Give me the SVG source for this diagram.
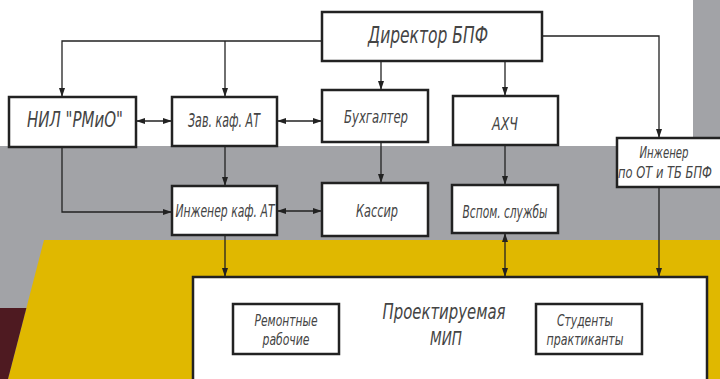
<svg xmlns="http://www.w3.org/2000/svg" width="720" height="379" viewBox="0 0 720 379">
<style>
.box{fill:#fff;stroke:#222;stroke-width:2.5}
.c{fill:none;stroke:#222;stroke-width:1.3}
.t{font-family:"Liberation Sans Narrow","DejaVu Sans Condensed","Liberation Sans",sans-serif;font-style:italic;font-weight:normal;fill:#444;text-anchor:middle}
</style>
<defs>
<marker id="ah" viewBox="0 0 9 6" refX="9" refY="3" markerWidth="9" markerHeight="6" markerUnits="userSpaceOnUse" orient="auto-start-reverse">
<path d="M0,0 L9,3 L0,6 z" fill="#222"/>
</marker>
</defs>
<g id="background">
<rect x="0" y="0" width="720" height="379" fill="#fff"/>
<rect x="0" y="146" width="720" height="233" fill="#a2a3a7"/>
<rect x="693" y="0" width="27" height="146" fill="#a2a3a7"/>
<polygon points="44,240 720,240 720,379 8,379" fill="#e0b800"/>
<polygon points="0,308 26.4,308 8,379 0,379" fill="#4e1a21"/>
</g>
<g id="connectors">
<polyline class="c" points="322,41 62,41 62,97" marker-end="url(#ah)"/>
<line class="c" x1="225" y1="41" x2="225" y2="97" marker-end="url(#ah)"/>
<polyline class="c" points="542,36 659,36 659,138" marker-end="url(#ah)"/>
<line class="c" x1="381" y1="61" x2="381" y2="90" marker-end="url(#ah)"/>
<line class="c" x1="505" y1="61" x2="505" y2="96" marker-end="url(#ah)"/>
<line class="c" x1="225" y1="146" x2="225" y2="186" marker-end="url(#ah)"/>
<line class="c" x1="381" y1="142" x2="381" y2="183" marker-end="url(#ah)"/>
<line class="c" x1="505" y1="145" x2="505" y2="185" marker-end="url(#ah)"/>
<polyline class="c" points="62,147 62,212 172,212" marker-end="url(#ah)"/>
<line class="c" x1="136" y1="121" x2="172" y2="121" marker-start="url(#ah)" marker-end="url(#ah)"/>
<line class="c" x1="277" y1="121" x2="322" y2="121" marker-start="url(#ah)" marker-end="url(#ah)"/>
<line class="c" x1="277" y1="211" x2="322" y2="211" marker-start="url(#ah)" marker-end="url(#ah)"/>
<line class="c" x1="225" y1="235" x2="225" y2="277" marker-end="url(#ah)"/>
<line class="c" x1="505" y1="233" x2="505" y2="277" marker-start="url(#ah)" marker-end="url(#ah)"/>
<line class="c" x1="659" y1="187" x2="659" y2="277" marker-end="url(#ah)"/>
</g>
<g id="director">
<rect class="box" x="322" y="12" width="220" height="49"/>
<text class="t" x="428" y="43" font-size="23" textLength="120" lengthAdjust="spacingAndGlyphs">Директор БПФ</text>
</g>
<g id="nil">
<rect class="box" x="9" y="97" width="127" height="50"/>
<text class="t" x="75" y="127" font-size="22" textLength="96" lengthAdjust="spacingAndGlyphs">НИЛ "РМиО"</text>
</g>
<g id="zav">
<rect class="box" x="172" y="97" width="105" height="49"/>
<text class="t" x="224" y="127" font-size="20" textLength="72" lengthAdjust="spacingAndGlyphs">Зав. каф. АТ</text>
</g>
<g id="buh">
<rect class="box" x="322" y="90" width="106" height="52"/>
<text class="t" x="376" y="123" font-size="18" textLength="64" lengthAdjust="spacingAndGlyphs">Бухгалтер</text>
</g>
<g id="ahch">
<rect class="box" x="453" y="96" width="105" height="49"/>
<text class="t" x="505" y="130" font-size="18" textLength="26" lengthAdjust="spacingAndGlyphs">АХЧ</text>
</g>
<g id="ing-ot">
<rect class="box" x="617" y="138" width="106" height="49"/>
<text class="t" x="664" y="158" font-size="15" textLength="49" lengthAdjust="spacingAndGlyphs">Инженер</text>
<text class="t" x="665" y="178" font-size="15" textLength="94" lengthAdjust="spacingAndGlyphs">по ОТ и ТБ БПФ</text>
</g>
<g id="ing-kaf">
<rect class="box" x="172" y="186" width="105" height="49"/>
<text class="t" x="225" y="217" font-size="18" textLength="99" lengthAdjust="spacingAndGlyphs">Инженер каф. АТ</text>
</g>
<g id="kassir">
<rect class="box" x="322" y="183" width="106" height="53"/>
<text class="t" x="377" y="217" font-size="18" textLength="42" lengthAdjust="spacingAndGlyphs">Кассир</text>
</g>
<g id="vspom">
<rect class="box" x="452" y="185" width="106" height="48"/>
<text class="t" x="505" y="218" font-size="17" textLength="85" lengthAdjust="spacingAndGlyphs">Вспом. службы</text>
</g>
<g id="mip">
<rect class="box" x="193" y="277" width="514" height="110" stroke-width="3"/>
<text class="t" x="444" y="319" font-size="21" textLength="123" lengthAdjust="spacingAndGlyphs">Проектируемая</text>
<text class="t" x="446" y="345" font-size="20" textLength="32" lengthAdjust="spacingAndGlyphs">МИП</text>
</g>
<g id="remont">
<rect class="box" x="233" y="304" width="106" height="50"/>
<text class="t" x="286" y="326" font-size="16" textLength="63" lengthAdjust="spacingAndGlyphs">Ремонтные</text>
<text class="t" x="286" y="345" font-size="16" textLength="47" lengthAdjust="spacingAndGlyphs">рабочие</text>
</g>
<g id="students">
<rect class="box" x="536" y="304" width="106" height="50"/>
<text class="t" x="585" y="326" font-size="16" textLength="56" lengthAdjust="spacingAndGlyphs">Студенты</text>
<text class="t" x="585" y="345" font-size="16" textLength="77" lengthAdjust="spacingAndGlyphs">практиканты</text>
</g>
</svg>
